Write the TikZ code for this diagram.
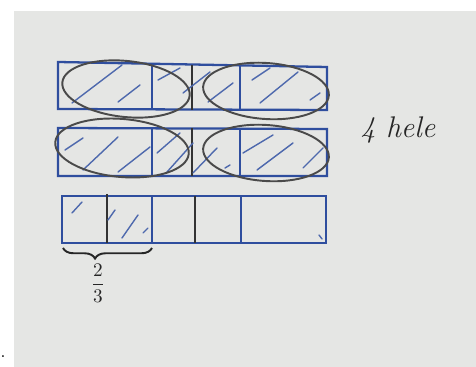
\documentclass[tikz,border=0pt]{standalone}
\usetikzlibrary{decorations.pathreplacing}
\definecolor{paper}{HTML}{E5E6E4}
\definecolor{ink}{HTML}{2F4E9E}
\definecolor{pencil}{HTML}{4A4A4A}
\tikzset{
  bar/.style={draw=ink, line width=1.3pt},
  divider/.style={draw=ink, line width=1.1pt},
  darkdiv/.style={draw=black!80, line width=1.2pt},
  hatch/.style={draw=ink!85, line width=0.8pt, line cap=round},
  loop/.style={draw=pencil, line width=1.1pt},
  hand/.style={font=\fontsize{17}{20}\selectfont\itshape, text=black!85},
}
\begin{document}
\begin{tikzpicture}[x=0.02cm,y=-0.02cm]
\useasboundingbox (0,0) rectangle (476,367);
\fill[white] (0,0) rectangle (476,367);
\fill[paper] (14,11) rectangle (476,367);
% row 1
\draw[bar] (58,62) coordinate (r1a) -- (327,67) -- (327,110) -- (58,109) -- cycle;
\draw[divider] (152,64) -- (152,110);
\draw[darkdiv] (192,65) -- (192,110);
\draw[divider] (240,66) -- (240,110);
% row 2
\draw[bar] (58,128) -- (327,129) -- (327,176) -- (58,176) -- cycle;
\draw[divider] (152,128) -- (152,176);
\draw[darkdiv] (192,128) -- (192,176);
\draw[divider] (240,129) -- (240,176);
% row 3
\draw[bar] (62,196) -- (326,196) -- (326,243) -- (62,243) -- cycle;
\draw[darkdiv] (107,194) -- (107,243);
\draw[divider] (152,196) -- (152,243);
\draw[darkdiv] (195,196) -- (195,243);
\draw[divider] (241,196) -- (241,243);
% hatching row 1
\foreach \a/\b/\c/\d in {72/103/122/65, 118/102/140/85, 158/80/180/68, 183/93/210/72, 208/102/233/83, 252/80/270/68, 260/103/298/72, 310/100/320/93}
  \draw[hatch] (\a,\b) -- (\c,\d);
% hatching row 2
\foreach \a/\b/\c/\d in {65/150/83/138, 83/170/118/137, 118/172/150/147, 157/153/180/133, 167/172/193/143, 193/173/217/148, 225/168/230/165, 243/153/273/135, 257/170/293/143, 303/168/323/148}
  \draw[hatch] (\a,\b) -- (\c,\d);
% hatching row 3
\foreach \a/\b/\c/\d in {72/213/82/202, 108/220/115/210, 122/238/138/215, 143/233/148/228, 319/235/322/239}
  \draw[hatch] (\a,\b) -- (\c,\d);
% loops
\draw[loop,rotate around={-6:(126,89)}] (126,89) ellipse [x radius=64, y radius=28];
\draw[loop,rotate around={-4:(266,91)}] (266,91) ellipse [x radius=63, y radius=28];
\draw[loop,rotate around={-5:(122,148)}] (122,148) ellipse [x radius=67, y radius=29];
\draw[loop,rotate around={-4:(266,153)}] (266,153) ellipse [x radius=63, y radius=28];
% brace and fraction
\coordinate (bl) at (63,248);
\coordinate (br) at (152,248);
\draw[black!85, line width=1.1pt, decorate, decoration={brace, mirror, amplitude=6, aspect=0.36}] (bl) -- (br);
\node[text=black!85, font=\fontsize{11}{13}\selectfont] (frac) at (98,283) {$\displaystyle\frac{2}{3}$};
\node[hand] (hele) at (398,130) {4 hele};
\node[inner sep=0pt] (dot) at (3,357) {.};
\end{tikzpicture}
\end{document}
